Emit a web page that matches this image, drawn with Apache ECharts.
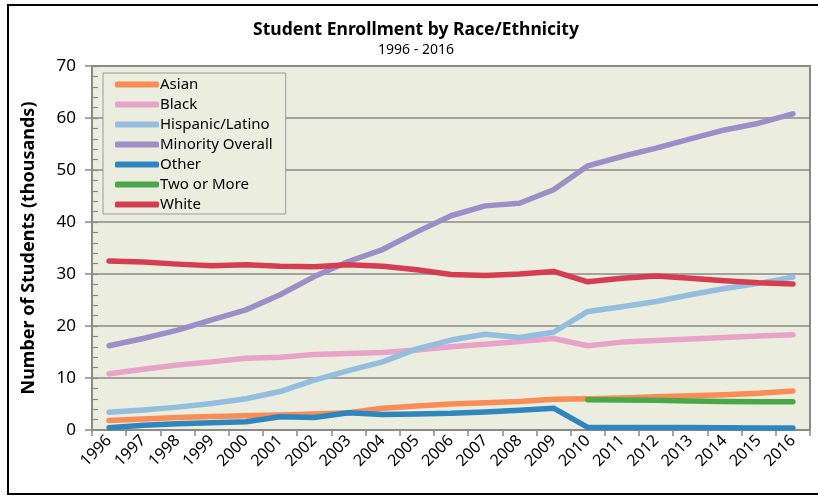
<!DOCTYPE html>
<html><head><meta charset="utf-8">
<script src="https://cdn.jsdelivr.net/npm/echarts@6/dist/echarts.min.js"></script>
<style>
html,body{margin:0;padding:0;background:#fff;}
#frame{position:absolute;left:7px;top:4px;width:820px;height:491px;border-left:2px solid #000;border-top:2px solid #000;border-bottom:2px solid #000;box-sizing:border-box;}
#chart{position:absolute;left:0;top:0;width:818px;height:498px;}
</style></head>
<body>
<div id="frame"></div>
<div id="chart"></div>
<script>
const years = ['1996','1997','1998','1999','2000','2001','2002','2003','2004','2005','2006','2007','2008','2009','2010','2011','2012','2013','2014','2015','2016'];
const asian    = [1.85,2.1,2.4,2.6,2.75,2.9,3.1,3.3,4.2,4.6,5.0,5.25,5.5,5.9,6.0,6.15,6.4,6.6,6.8,7.05,7.5];
const black    = [10.8,11.7,12.5,13.1,13.8,14.0,14.5,14.7,14.9,15.4,16.0,16.5,17.0,17.6,16.2,16.9,17.2,17.5,17.8,18.1,18.3];
const hispanic = [3.4,3.85,4.4,5.1,6.0,7.4,9.6,11.4,13.1,15.6,17.3,18.4,17.8,18.8,22.8,23.7,24.7,26.0,27.2,28.2,29.4];
const minority = [16.2,17.6,19.2,21.2,23.1,26.0,29.5,32.4,34.7,38.1,41.2,43.1,43.6,46.2,50.8,52.6,54.2,56.0,57.7,59.0,60.8];
const other    = [0.45,0.9,1.2,1.4,1.6,2.55,2.4,3.3,3.0,3.1,3.2,3.45,3.8,4.2,0.5,0.5,0.5,0.5,0.45,0.4,0.4];
const twoMore  = [null,null,null,null,null,null,null,null,null,null,null,null,null,null,5.8,5.75,5.7,5.6,5.5,5.45,5.45];
const white    = [32.5,32.3,31.9,31.6,31.8,31.5,31.4,31.8,31.5,30.8,29.9,29.7,30.0,30.5,28.5,29.2,29.6,29.2,28.7,28.3,28.1];
const yTicks = [0,10,20,30,40,50,60,70];

const names  = ['Asian','Black','Hispanic/Latino','Minority Overall','Other','Two or More','White'];
const colors = ['#F98D55','#E8A3C9','#93BEDE','#9C8FC8','#2F86BE','#4AA84A','#D53E50'];
const datas  = [asian,black,hispanic,minority,other,twoMore,white];

const chart = echarts.init(document.getElementById('chart'));
const font = '"Noto Sans", "Open Sans", sans-serif';
chart.setOption({
  animation:false,
  title:{
    text:'Student Enrollment by Race/Ethnicity',
    subtext:'1996 - 2016',
    left:411, textAlign:'center', top:16, itemGap:4,
    textStyle:{fontFamily:font,fontSize:17.5,fontWeight:'bold',color:'#000'},
    subtextStyle:{fontFamily:font,fontSize:14,color:'#000'}
  },
  grid:{left:92,top:66,right:8,bottom:68,show:true,backgroundColor:'#EBEEDF',borderColor:'#8a8a8a',borderWidth:2},
  legend:{
    orient:'vertical', left:103, top:73,
    padding:[4,13,2,12],
    backgroundColor:'#EBEEDF', borderColor:'#9a9a9a', borderWidth:1,
    itemWidth:44, itemHeight:6, itemGap:5,
    icon:'roundRect',
    textStyle:{fontFamily:font,fontSize:15,lineHeight:15,color:'#000',padding:[0,0,0,-4]},
    data:names
  },
  xAxis:{
    type:'category', data:years, boundaryGap:true,
    axisLine:{lineStyle:{color:'#8a8a8a',width:2}},
    axisTick:{show:true,length:6,alignWithLabel:false,lineStyle:{color:'#8a8a8a',width:1.5}},
    axisLabel:{rotate:45,fontFamily:font,fontSize:16,color:'#000',margin:8,interval:0}
  },
  yAxis:[{
    type:'value', min:0, max:70, interval:10,
    axisLine:{show:true,lineStyle:{color:'#8a8a8a',width:2}},
    axisTick:{show:true,length:7,lineStyle:{color:'#8a8a8a',width:1.5}},
    axisLabel:{fontFamily:font,fontSize:17,color:'#000',margin:16,
      formatter:v=>yTicks.includes(v)?String(v):''},
    splitLine:{show:true,lineStyle:{color:'#8a8a8a',width:1.5}},
    name:'Number of Students (thousands)', nameLocation:'middle', nameGap:54,
    nameTextStyle:{fontFamily:font,fontSize:18,fontWeight:'bold',color:'#000'}
  },{
    type:'value', min:0, max:70, interval:2, position:'left',
    axisLine:{show:false},
    axisTick:{show:true,inside:true,length:6,lineStyle:{color:'#8a8a8a',width:1.2}},
    axisLabel:{show:false}, splitLine:{show:false}
  }],
  series: names.map((n,i)=>({
    name:n, type:'line', data:datas[i], yAxisIndex:0,
    symbol:'none', smooth:false, connectNulls:false,
    color:colors[i],
    lineStyle:{width:5.5,color:colors[i],cap:'round',join:'round'},
    z: i===4 ? 3 : 2
  }))
});
</script>
</body></html>
